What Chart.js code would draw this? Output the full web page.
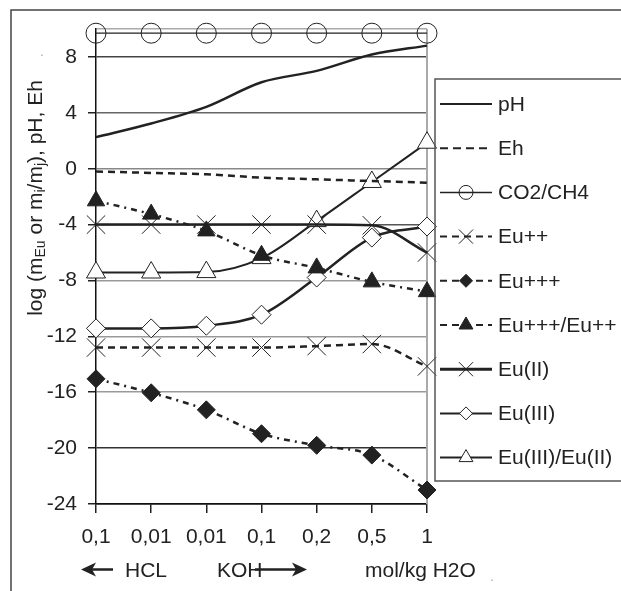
<!DOCTYPE html>
<html>
<head>
<meta charset="utf-8">
<script src="https://cdn.jsdelivr.net/npm/chart.js@4/dist/chart.umd.min.js"></script>
<style>
  html, body { margin: 0; padding: 0; background: #fff; }
  canvas { display: block; }
</style>
</head>
<body>
<canvas id="myChart" width="621" height="591"></canvas>
<script>
const categories = ['0,1', '0,01', '0,01', '0,1', '0,2', '0,5', '1'];
const yTickValues = [-24, -20, -16, -12, -8, -4, 0, 4, 8, 10];

const pH = [2.26, 3.24, 4.43, 6.19, 7.0, 8.17, 8.81];
const eh = [-0.2, -0.3, -0.4, -0.64, -0.76, -0.88, -1.0];
const co2ch4 = [9.7, 9.7, 9.7, 9.7, 9.7, 9.7, 9.7];
const euPlus2 = [-12.8, -12.8, -12.8, -12.8, -12.7, -12.55, -14.15];
const euPlus3 = [-15.04, -16.04, -17.26, -18.97, -19.8, -20.5, -23.0];
const euPlus3Plus2 = [-2.3, -3.25, -4.45, -6.2, -7.1, -8.1, -8.8];
const euII = [-4, -4, -4, -4, -4, -4.05, -6.0];
const euIII = [-11.43, -11.43, -11.24, -10.45, -7.79, -4.93, -4.14];
const euIIIeuII = [-7.43, -7.43, -7.4, -6.4, -3.75, -0.95, 1.86];

const FONT = "'Liberation Sans', Arial, sans-serif";
const INK = '#222';

// little marker painter, used for the legend samples
function drawMarker(ctx, style, r, x, y, fill, stroke) {
  ctx.save();
  ctx.fillStyle = fill;
  ctx.strokeStyle = stroke;
  ctx.lineWidth = 1;
  ctx.setLineDash([]);
  ctx.beginPath();
  if (style === 'circle') {
    ctx.arc(x, y, r, 0, Math.PI * 2);
  } else if (style === 'rectRot') {
    ctx.moveTo(x - r, y); ctx.lineTo(x, y - r); ctx.lineTo(x + r, y); ctx.lineTo(x, y + r);
    ctx.closePath();
  } else if (style === 'triangle') {
    ctx.moveTo(x, y - r); ctx.lineTo(x + 0.866 * r, y + 0.5 * r); ctx.lineTo(x - 0.866 * r, y + 0.5 * r);
    ctx.closePath();
  } else if (style === 'crossRot') {
    const d = r * 0.707;
    ctx.moveTo(x - d, y - d); ctx.lineTo(x + d, y + d);
    ctx.moveTo(x + d, y - d); ctx.lineTo(x - d, y + d);
    ctx.stroke();
    ctx.restore();
    return;
  }
  if (fill !== 'transparent') ctx.fill();
  ctx.stroke();
  ctx.restore();
}

const legendBox = {
  id: 'legendBox',
  afterDraw(chart) {
    const ctx = chart.ctx;
    ctx.save();
    ctx.strokeStyle = '#555';
    ctx.lineWidth = 1.5;
    ctx.strokeRect(435, 79, 220, 402);
    chart.data.datasets.forEach((ds, i) => {
      const y = 104 + i * 44.2;
      ctx.save();
      ctx.strokeStyle = INK;
      ctx.lineWidth = ds.legendWidth;
      ctx.setLineDash(ds.legendDash);
      ctx.beginPath();
      ctx.moveTo(440, y);
      ctx.lineTo(492, y);
      ctx.stroke();
      ctx.restore();
      if (ds.pointRadius > 0) {
        drawMarker(ctx, ds.pointStyle, ds.legendRadius, 466, y, ds.pointBackgroundColor, ds.pointBorderColor);
      }
      ctx.fillStyle = INK;
      ctx.font = '21px ' + FONT;
      ctx.textBaseline = 'middle';
      ctx.fillText(ds.label, 498, y + 1);
    });
    ctx.restore();
  }
};

const extras = {
  id: 'extras',
  beforeDraw(chart) {
    const ctx = chart.ctx;
    ctx.save();
    ctx.strokeStyle = '#444';
    ctx.lineWidth = 1.5;
    ctx.beginPath();
    ctx.moveTo(11, 591);
    ctx.lineTo(11, 10);
    ctx.lineTo(621, 10);
    ctx.stroke();
    ctx.restore();
  },
  beforeDatasetsDraw(chart) {
    const {ctx, chartArea} = chart;
    ctx.save();
    ctx.strokeStyle = '#aaa';
    ctx.lineWidth = 2;
    ctx.beginPath();
    ctx.moveTo(chartArea.right, chartArea.top);
    ctx.lineTo(chartArea.right, chartArea.bottom);
    ctx.stroke();
    ctx.restore();
  },
  afterDraw(chart) {
    const ctx = chart.ctx;
    ctx.save();
    // y axis title with subscripts
    const parts = [['log (m', false], ['Eu', true], [' or m', false], ['i', true],
                   ['/m', false], ['j', true], ['), pH, Eh', false]];
    const big = '21px ' + FONT;
    const small = '14px ' + FONT;
    ctx.translate(37, 198);
    ctx.rotate(-Math.PI / 2);
    let total = 0;
    parts.forEach(([t, sub]) => {
      ctx.font = sub ? small : big;
      total += ctx.measureText(t).width;
    });
    let x = -total / 2;
    ctx.fillStyle = INK;
    ctx.textBaseline = 'alphabetic';
    parts.forEach(([t, sub]) => {
      ctx.font = sub ? small : big;
      ctx.fillText(t, x, sub ? 8 : 5);
      x += ctx.measureText(t).width;
    });
    ctx.restore();

    // HCL / KOH row
    ctx.save();
    ctx.fillStyle = INK;
    ctx.font = '21px ' + FONT;
    ctx.textBaseline = 'middle';
    ctx.fillText('HCL', 125, 571);
    ctx.fillText('KOH', 217, 571);
    ctx.fillText('mol/kg H2O', 365, 571);
    ctx.fillStyle = '#aaa';
    ctx.font = '14px ' + FONT;
    ctx.fillText('.', 490, 577);
    ctx.fillText('.', 40, 52);

    ctx.strokeStyle = INK;
    ctx.fillStyle = INK;
    ctx.lineWidth = 2.5;
    ctx.beginPath();
    ctx.moveTo(88, 569.5); ctx.lineTo(113, 569.5);
    ctx.moveTo(255, 569.5); ctx.lineTo(300, 569.5);
    ctx.stroke();
    ctx.beginPath();
    ctx.moveTo(81, 569.5); ctx.lineTo(96, 562.5); ctx.lineTo(92, 569.5); ctx.lineTo(96, 576.5);
    ctx.closePath();
    ctx.fill();
    ctx.beginPath();
    ctx.moveTo(307, 569.5); ctx.lineTo(292, 562.5); ctx.lineTo(296, 569.5); ctx.lineTo(292, 576.5);
    ctx.closePath();
    ctx.fill();
    ctx.restore();
  }
};

function series(label, data, opts) {
  return Object.assign({
    label: label,
    data: data,
    borderColor: INK,
    borderWidth: 2.5,
    borderDash: [],
    legendDash: [],
    legendWidth: 2,
    legendRadius: 7,
    pointRadius: 0,
    pointStyle: 'circle',
    pointBackgroundColor: '#fff',
    pointBorderColor: INK,
    pointBorderWidth: 1,
    fill: false,
    clip: false,
    cubicInterpolationMode: 'monotone'
  }, opts);
}

const gridColors = { '10': '#aaa', '8': '#444', '4': '#666', '0': '#888', '-4': '#555',
                     '-8': '#999', '-12': '#999', '-16': '#999', '-20': '#333', '-24': '#111' };

const context = document.getElementById('myChart').getContext('2d');

const chart = new Chart(context, {
  type: 'line',
  data: {
    labels: categories,
    datasets: [
      series('pH', pH, {}),
      series('Eh', eh, { borderDash: [7, 5], legendDash: [8, 5] }),
      series('CO2/CH4', co2ch4, { borderWidth: 1.3, pointRadius: 10, legendRadius: 7,
        pointBackgroundColor: 'transparent', legendWidth: 1.5 }),
      series('Eu++', euPlus2, { borderDash: [7, 5], legendDash: [7, 5], pointStyle: 'crossRot',
        pointRadius: 13, legendRadius: 10 }),
      series('Eu+++', euPlus3, { borderDash: [6, 5, 2, 5], legendDash: [7, 5], pointStyle: 'rectRot',
        pointRadius: 9, legendRadius: 6.5, pointBackgroundColor: INK }),
      series('Eu+++/Eu++', euPlus3Plus2, { borderDash: [6, 5, 2, 5], legendDash: [7, 5], pointStyle: 'triangle',
        pointRadius: 10, legendRadius: 8, pointBackgroundColor: INK }),
      series('Eu(II)', euII, { pointStyle: 'crossRot', pointRadius: 13, legendRadius: 10, legendWidth: 3 }),
      series('Eu(III)', euIII, { pointStyle: 'rectRot', pointRadius: 9.5, legendRadius: 6.5 }),
      series('Eu(III)/Eu(II)', euIIIeuII, { borderWidth: 2, pointStyle: 'triangle', pointRadius: 11,
        legendRadius: 8 })
    ]
  },
  plugins: [extras, legendBox],
  options: {
    responsive: false,
    animation: false,
    layout: { padding: { top: 29, right: 194, left: 0, bottom: 0 } },
    plugins: {
      legend: { display: false },
      tooltip: { enabled: false },
      title: { display: false }
    },
    scales: {
      x: {
        offset: false,
        afterFit: (scale) => { scale.height = 87; },
        grid: { drawOnChartArea: false, drawTicks: true, tickLength: 9, color: '#222', lineWidth: 1.5 },
        border: { color: '#111', width: 1.5 },
        ticks: { color: INK, font: { family: FONT, size: 21 }, padding: 12, maxRotation: 0, autoSkip: false }
      },
      y: {
        min: -24,
        max: 10,
        afterBuildTicks: (scale) => { scale.ticks = yTickValues.map((v) => ({ value: v })); },
        afterFit: (scale) => { scale.width = 96; },
        grid: {
          color: (c) => gridColors[String(c.tick.value)] || '#999',
          tickColor: (c) => (c.tick.value === 10 ? 'rgba(0,0,0,0)' : '#222'),
          lineWidth: 1.5,
          tickLength: 8
        },
        border: { color: '#111', width: 1.5 },
        ticks: {
          color: INK,
          font: { family: FONT, size: 21 },
          padding: 11,
          callback: (v) => (v === 10 ? '' : String(v))
        }
      }
    }
  }
});
</script>
</body>
</html>
